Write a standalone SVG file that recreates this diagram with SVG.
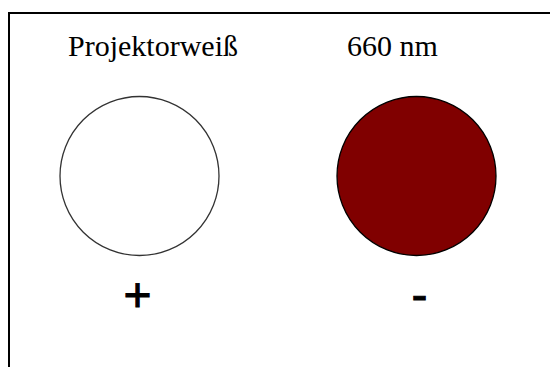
<svg xmlns="http://www.w3.org/2000/svg" width="550" height="367" viewBox="0 0 550 367">
<style>
.lbl{font-family:"Liberation Serif","Times New Roman",serif;font-size:30px;fill:#000}
.sgn{font-family:"Liberation Sans",Arial,sans-serif;font-size:48px;fill:#000;stroke:#000;stroke-width:0.9;text-anchor:middle}
</style>
<rect x="0" y="0" width="550" height="367" fill="#fff"/>
<path d="M9,367 V13 H550" fill="none" stroke="#000" stroke-width="2"/>
<g id="white">
<text class="lbl" x="68" y="56">Projektorweiß</text>
<circle cx="139.5" cy="176" r="79.5" fill="#fff" stroke="#333" stroke-width="1.3"/>
<text class="sgn" x="137.5" y="311">+</text>
</g>
<g id="red">
<text class="lbl" x="347" y="56">660 nm</text>
<circle cx="416.5" cy="176" r="79.5" fill="#800000" stroke="#000" stroke-width="1.3"/>
<text class="sgn" x="419.5" y="311">-</text>
</g>
<g id="connectors"/>
</svg>
